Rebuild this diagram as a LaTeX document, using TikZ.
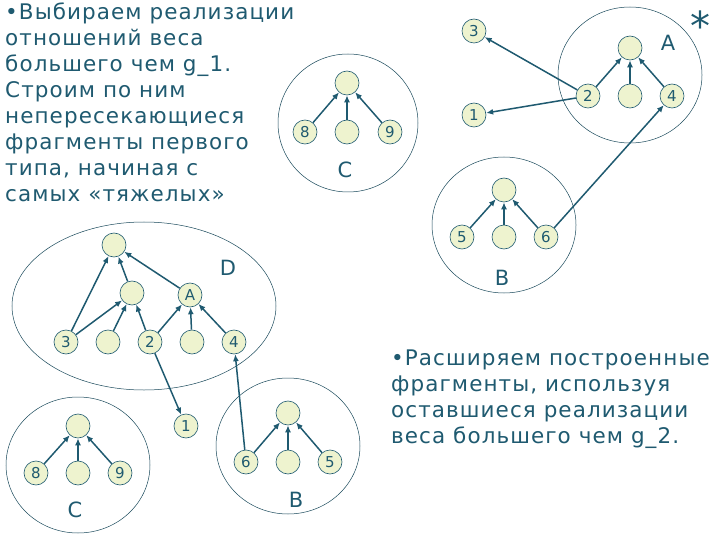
\documentclass[tikz,border=0pt]{standalone}
\usepackage{fontspec}
\setmainfont{DejaVu Sans}
\newfontfamily\wide[LetterSpace=5]{DejaVu Sans}
\usetikzlibrary{arrows.meta}
\definecolor{ink}{HTML}{1F5A70}
\definecolor{nfill}{HTML}{EEF3CF}
\tikzset{
  v/.style={circle,draw=ink,fill=nfill,line width=0.6pt,minimum size=24pt,inner sep=0pt,text=ink,font=\fontsize{15}{15}\selectfont},
  grp/.style={draw=ink!80!black,line width=0.5pt},
  e/.style={draw=ink,line width=1.5pt,-{Latex[length=7pt,width=6pt]}},
  lab/.style={text=ink,font=\fontsize{21}{21}\selectfont},
  txt/.style={text=ink,align=left,font=\wide\fontsize{21.5}{26}\selectfont,inner sep=0pt}
}
\begin{document}
\begin{tikzpicture}[x=1pt,y=-1pt]
\useasboundingbox (0,0) rectangle (720,540);
% text
\node[txt,anchor=north west] (t1) at (5,3) {•Выбираем реализации\\отношений веса\\большего чем g\_1.\\Строим по ним\\непересекающиеся\\фрагменты первого\\типа, начиная с\\самых «тяжелых»};
\node[txt,anchor=north west] (t2) at (391,350) {•Расширяем построенные\\фрагменты, используя\\оставшиеся реализации\\веса большего чем g\_2.};
% groups
\draw[grp] (630,75) ellipse (72 and 68);
\draw[grp] (348,123) ellipse (70 and 69);
\draw[grp] (504,225) ellipse (72 and 68);
\draw[grp] (144,306) ellipse (132 and 84);
\draw[grp] (78,465) ellipse (72 and 68);
\draw[grp] (288,446) ellipse (72 and 68);
% top right
\node[text=ink,font=\fontsize{40}{40}\selectfont] (star) at (700,26) {*};
\node[lab] (lA) at (668,43) {A};
\node[v] (ar) at (630,48) {};
\node[v] (a2) at (588,96) {2};
\node[v] (am) at (630,96) {};
\node[v] (a4) at (672,96) {4};
\node[v] (n3) at (474,31) {3};
\node[v] (n1) at (474,115) {1};
\draw[e] (a2) -- (ar); \draw[e] (am) -- (ar); \draw[e] (a4) -- (ar);
\draw[e] (a2) -- (n3); \draw[e] (a2) -- (n1);
% C top
\node[v] (cr) at (347,83) {};
\node[v] (c8) at (305,132) {8};
\node[v] (cm) at (347,132) {};
\node[v] (c9) at (390,132) {9};
\node[lab] (lC) at (345,170) {C};
\draw[e] (c8) -- (cr); \draw[e] (cm) -- (cr); \draw[e] (c9) -- (cr);
% B top
\node[v] (br) at (504,190) {};
\node[v] (b5) at (462,237) {5};
\node[v] (bm) at (504,237) {};
\node[v] (b6) at (546,237) {6};
\node[lab] (lB) at (502,278) {B};
\draw[e] (b5) -- (br); \draw[e] (bm) -- (br); \draw[e] (b6) -- (br);
\draw[e] (b6) -- (a4);
% D
\node[v] (dr) at (114,245) {};
\node[v] (dm) at (132,293) {};
\node[v] (dA) at (190,295) {A};
\node[lab] (lD) at (228,268) {D};
\node[v] (d3) at (66,342) {3};
\node[v] (dx) at (108,342) {};
\node[v] (d2) at (150,342) {2};
\node[v] (dy) at (192,342) {};
\node[v] (d4) at (234,342) {4};
\node[v] (d1) at (186,426) {1};
\draw[e] (d3) -- (dr); \draw[e] (d3) -- (dm); \draw[e] (dx) -- (dm); \draw[e] (d2) -- (dm);
\draw[e] (d2) -- (dA); \draw[e] (dy) -- (dA); \draw[e] (d4) -- (dA);
\draw[e] (dA) -- (dr); \draw[e] (dm) -- (dr); \draw[e] (d2) -- (d1);
% C bottom
\node[v] (Cr) at (78,426) {};
\node[v] (C8) at (36,473) {8};
\node[v] (Cm) at (78,473) {};
\node[v] (C9) at (120,473) {9};
\node[lab] (lC2) at (75,510) {C};
\draw[e] (C8) -- (Cr); \draw[e] (Cm) -- (Cr); \draw[e] (C9) -- (Cr);
% B bottom
\node[v] (Br) at (288,413) {};
\node[v] (B6) at (246,462) {6};
\node[v] (Bm) at (288,462) {};
\node[v] (B5) at (330,462) {5};
\node[lab] (lB2) at (296,500) {B};
\draw[e] (B6) -- (Br); \draw[e] (Bm) -- (Br); \draw[e] (B5) -- (Br);
\draw[e] (B6) -- (d4);
\end{tikzpicture}
\end{document}
